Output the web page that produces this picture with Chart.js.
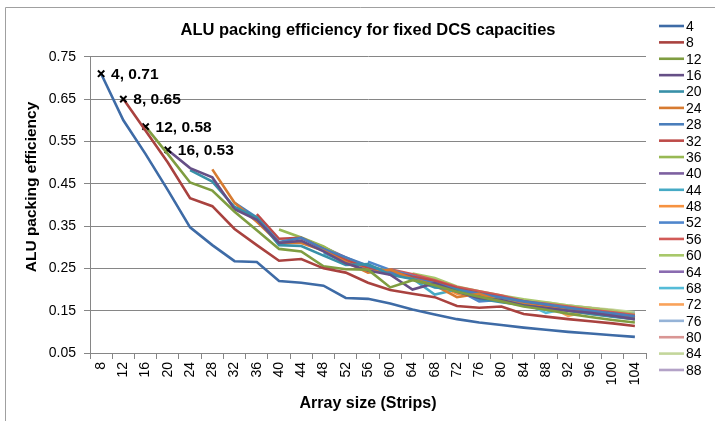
<!DOCTYPE html>
<html>
<head>
<meta charset="utf-8">
<script src="https://cdn.jsdelivr.net/npm/chart.js@4.4.1/dist/chart.umd.min.js"></script>
<style>
  html, body { margin: 0; padding: 0; background: #fff; }
  #wrap { width: 715px; height: 421px; }
</style>
</head>
<body>
<div id="wrap"><canvas id="chart" width="715" height="421"></canvas></div>
<script>
// x categories: array size in strips
const arraySizes = [8, 12, 16, 20, 24, 28, 32, 36, 40, 44, 48, 52, 56, 60, 64, 68, 72, 76, 80, 84, 88, 92, 96, 100, 104];

// DCS capacities (one series each)
const capacities = [4, 8, 12, 16, 20, 24, 28, 32, 36, 40, 44, 48, 52, 56, 60, 64, 68, 72, 76, 80, 84, 88];

// y ticks
const yTicks = [0.05, 0.15, 0.25, 0.35, 0.45, 0.55, 0.65, 0.75];

// efficiency per capacity, starting at array size = capacity + 4
const eff4  = [0.71, 0.60, 0.52, 0.435, 0.347, 0.305, 0.267, 0.265, 0.22, 0.216, 0.209, 0.18, 0.178, 0.167, 0.153, 0.141, 0.13, 0.122, 0.116, 0.11, 0.105, 0.10, 0.096, 0.092, 0.088];
const eff8  = [0.65, 0.575, 0.50, 0.416, 0.397, 0.343, 0.305, 0.268, 0.272, 0.25, 0.24, 0.216, 0.199, 0.19, 0.182, 0.161, 0.157, 0.16, 0.142, 0.136, 0.13, 0.125, 0.12, 0.114];
const eff12 = [0.585, 0.52, 0.453, 0.434, 0.384, 0.34, 0.296, 0.29, 0.255, 0.248, 0.247, 0.205, 0.222, 0.21, 0.195, 0.183, 0.172, 0.16, 0.152, 0.143, 0.135, 0.128, 0.122];
const eff16 = [0.53, 0.487, 0.465, 0.39, 0.365, 0.31, 0.315, 0.29, 0.262, 0.245, 0.235, 0.20, 0.215, 0.195, 0.18, 0.175, 0.162, 0.156, 0.15, 0.145, 0.138, 0.13];
const eff20 = [0.482, 0.455, 0.395, 0.37, 0.305, 0.303, 0.28, 0.258, 0.26, 0.235, 0.225, 0.205, 0.2, 0.178, 0.17, 0.163, 0.155, 0.15, 0.142, 0.136, 0.13];
const eff24 = [0.484, 0.405, 0.36, 0.31, 0.31, 0.292, 0.265, 0.24, 0.247, 0.225, 0.21, 0.182, 0.19, 0.172, 0.165, 0.158, 0.15, 0.143, 0.137, 0.13];
const eff28 = [0.405, 0.37, 0.312, 0.322, 0.296, 0.276, 0.256, 0.24, 0.226, 0.215, 0.2, 0.19, 0.181, 0.172, 0.165, 0.157, 0.15, 0.143, 0.137];
const eff32 = [0.378, 0.32, 0.322, 0.296, 0.27, 0.252, 0.242, 0.23, 0.22, 0.203, 0.192, 0.182, 0.172, 0.163, 0.157, 0.15, 0.143, 0.137];
const eff36 = [0.342, 0.323, 0.302, 0.272, 0.256, 0.242, 0.226, 0.213, 0.202, 0.192, 0.178, 0.171, 0.162, 0.156, 0.148, 0.142, 0.136];
const eff40 = [0.322, 0.30, 0.276, 0.253, 0.24, 0.225, 0.212, 0.20, 0.186, 0.176, 0.166, 0.16, 0.152, 0.146, 0.14, 0.134];
const eff44 = [0.286, 0.265, 0.256, 0.236, 0.226, 0.188, 0.20, 0.185, 0.172, 0.165, 0.158, 0.152, 0.147, 0.141, 0.135];
const eff48 = [0.27, 0.25, 0.242, 0.226, 0.215, 0.19, 0.186, 0.176, 0.17, 0.164, 0.156, 0.15, 0.142, 0.136];
const eff52 = [0.266, 0.246, 0.232, 0.216, 0.20, 0.172, 0.176, 0.166, 0.16, 0.155, 0.149, 0.143, 0.137];
const eff56 = [0.248, 0.236, 0.222, 0.206, 0.196, 0.186, 0.172, 0.166, 0.16, 0.152, 0.146, 0.14];
const eff60 = [0.238, 0.227, 0.207, 0.196, 0.186, 0.177, 0.17, 0.162, 0.156, 0.15, 0.142];
const eff64 = [0.216, 0.20, 0.19, 0.172, 0.17, 0.161, 0.156, 0.15, 0.145, 0.14];
const eff68 = [0.202, 0.19, 0.18, 0.17, 0.145, 0.156, 0.15, 0.145, 0.14];
const eff72 = [0.19, 0.18, 0.17, 0.164, 0.138, 0.15, 0.145, 0.14];
const eff76 = [0.18, 0.174, 0.165, 0.16, 0.15, 0.136, 0.145];
const eff80 = [0.176, 0.166, 0.16, 0.156, 0.15, 0.134];
const eff84 = [0.17, 0.162, 0.157, 0.152, 0.146];
const eff88 = [0.162, 0.156, 0.15, 0.142];

const allSeries = [eff4, eff8, eff12, eff16, eff20, eff24, eff28, eff32, eff36, eff40, eff44,
                   eff48, eff52, eff56, eff60, eff64, eff68, eff72, eff76, eff80, eff84, eff88];

const seriesColors = [
    '#3E6BA6', '#A9423F', '#7F9D41', '#654F86', '#3890A8', '#D77B31',
    '#4A7EBB', '#BE4B48', '#98B954', '#7D60A0', '#46AAC5', '#F69240',
    '#4F86CC', '#D25A57', '#A8C86A', '#8A6BB0', '#55BCD8', '#F9A25A',
    '#95B3D7', '#D99694', '#C3D69B', '#B3A2C7'
];

// series whose first point carries an "x" marker and a label
const labelled = [0, 1, 2, 3];

const FONT = "'Liberation Sans', Arial, sans-serif";
const GRID = '#868686';

// pad each series with nulls so it begins at its own start index
function startIndex(i) {
    return arraySizes.length - allSeries[i].length;
}

const datasets = capacities.map((cap, i) => {
    const start = startIndex(i);
    const data = new Array(start).fill(null).concat(allSeries[i]);
    const hasMark = labelled.includes(i);
    return {
        label: String(cap),
        data: data,
        borderColor: seriesColors[i],
        backgroundColor: seriesColors[i],
        borderWidth: 2.6,
        tension: 0,
        fill: false,
        pointStyle: 'crossRot',
        pointRadius: ctx => (hasMark && ctx.dataIndex === start) ? 4.5 : 0,
        pointBorderColor: '#000',
        pointBorderWidth: 2,
        pointHoverRadius: 0,
    };
});

// white background, chart frame (left and top edges) and the y axis title
const framePlugin = {
    id: 'frame',
    beforeDraw(chart) {
        const c = chart.ctx;
        c.save();
        c.fillStyle = '#fff';
        c.fillRect(0, 0, chart.width, chart.height);
        c.strokeStyle = '#A0A0A0';
        c.lineWidth = 1;
        c.beginPath();
        c.moveTo(5.5, chart.height);
        c.lineTo(5.5, 7.5);
        c.lineTo(chart.width, 7.5);
        c.stroke();
        // y axis title, placed a little above the plot centre as in Excel
        c.translate(32, 187);
        c.rotate(-Math.PI / 2);
        c.font = 'bold 15.5px ' + FONT;
        c.fillStyle = '#000';
        c.textAlign = 'center';
        c.textBaseline = 'middle';
        c.fillText('ALU packing efficiency', 0, 0);
        c.restore();
    }
};

// "4, 0.71" style labels next to the first point of the marked series
const pointLabelPlugin = {
    id: 'pointLabels',
    afterDatasetsDraw(chart) {
        const c = chart.ctx;
        c.save();
        c.font = 'bold 15.5px ' + FONT;
        c.fillStyle = '#000';
        c.textBaseline = 'middle';
        c.textAlign = 'left';
        labelled.forEach(i => {
            const idx = startIndex(i);
            const pt = chart.getDatasetMeta(i).data[idx];
            const val = chart.data.datasets[i].data[idx];
            c.fillText(capacities[i] + ', ' + val.toFixed(2), pt.x + 10, pt.y + 1);
        });
        c.restore();
    }
};

// Excel-like legend column on the right
const legendPlugin = {
    id: 'sideLegend',
    afterDraw(chart) {
        const c = chart.ctx;
        c.save();
        c.font = '14px ' + FONT;
        c.textBaseline = 'middle';
        c.textAlign = 'left';
        c.lineWidth = 2.6;
        chart.data.datasets.forEach((ds, i) => {
            const y = 26 + i * 16.38;
            c.strokeStyle = ds.borderColor;
            c.beginPath();
            c.moveTo(659, y);
            c.lineTo(684, y);
            c.stroke();
            c.fillStyle = '#000';
            c.fillText(ds.label, 686, y + 1);
        });
        c.restore();
    }
};

new Chart(document.getElementById('chart'), {
    type: 'line',
    data: { labels: arraySizes.map(String), datasets: datasets },
    plugins: [framePlugin, pointLabelPlugin, legendPlugin],
    options: {
        responsive: false,
        animation: false,
        devicePixelRatio: 1,
        spanGaps: false,
        layout: { padding: { left: 6, right: 69, top: 0, bottom: 4 } },
        plugins: {
            legend: { display: false },
            tooltip: { enabled: false },
            title: {
                display: true,
                text: 'ALU packing efficiency for fixed DCS capacities',
                fullSize: false,
                color: '#000',
                font: { family: FONT, size: 16.5, weight: 'bold' },
                padding: { top: 21, bottom: 16 },
            },
        },
        scales: {
            x: {
                offset: true,
                grid: {
                    offset: true,
                    drawOnChartArea: false,
                    drawTicks: true,
                    tickLength: 6,
                    color: GRID,
                },
                border: { display: true, color: GRID, width: 1 },
                ticks: {
                    autoSkip: false,
                    maxRotation: 90,
                    minRotation: 90,
                    padding: 3,
                    color: '#000',
                    font: { family: FONT, size: 14 },
                },
                title: {
                    display: true,
                    text: 'Array size (Strips)',
                    color: '#000',
                    font: { family: FONT, size: 16, weight: 'bold' },
                    padding: { top: 0, bottom: 4 },
                },
                afterFit(scale) { scale.height = 64; },
            },
            y: {
                min: 0.05,
                max: 0.75,
                afterBuildTicks(scale) { scale.ticks = yTicks.map(v => ({ value: v })); },
                grid: {
                    color: GRID,
                    drawTicks: true,
                    tickLength: 6,
                },
                border: { display: true, color: GRID, width: 1 },
                ticks: {
                    padding: 8,
                    color: '#000',
                    font: { family: FONT, size: 14 },
                    callback: v => Number(v).toFixed(2),
                },
                title: { display: false },
                afterFit(scale) { scale.width = 84; },
            },
        },
    },
});
</script>
</body>
</html>
